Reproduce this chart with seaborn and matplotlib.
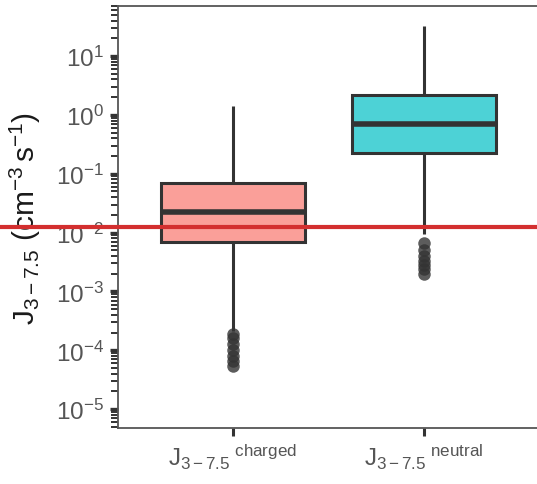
import numpy as np
import pandas as pd
import matplotlib
matplotlib.use("Agg")
import matplotlib.pyplot as plt
import matplotlib.transforms as mtransforms
from matplotlib.lines import Line2D
import seaborn as sns

# ---- data ----
categories = ["charged", "neutral"]
tick_labels = [r"$\mathrm{J}_{3-7.5}{}^{\ \mathrm{charged}}$",
               r"$\mathrm{J}_{3-7.5}{}^{\ \mathrm{neutral}}$"]

# quartiles (Q1, median, Q3)
charged_quartiles = [0.0068, 0.022, 0.070]
neutral_quartiles = [0.227, 0.70, 2.18]
# whisker ends (low, high)
charged_whiskers = [2.1e-4, 1.4]
neutral_whiskers = [0.0096, 32.0]
# outliers
charged_outliers = [1.9e-4, 1.6e-4, 1.3e-4, 1.0e-4, 8.0e-5, 6.5e-5, 5.5e-5]
neutral_outliers = [6.6e-3, 5.0e-3, 4.0e-3, 3.3e-3, 2.8e-3, 2.4e-3, 2.0e-3]

ref_line_value = 0.0126   # red horizontal reference line

# repeat count for quartile values so the computed quartiles fall on them
n_rep = 12

def build(cat, quart, whisk, outl):
    vals = list(outl) + [whisk[0]] + [quart[0]] * n_rep + [quart[1]] * n_rep \
        + [quart[2]] * n_rep + [whisk[1]]
    return pd.DataFrame({"group": cat, "J": vals})

df = pd.concat([
    build(categories[0], charged_quartiles, charged_whiskers, charged_outliers),
    build(categories[1], neutral_quartiles, neutral_whiskers, neutral_outliers),
], ignore_index=True)

sns.set_theme(style="white")
plt.rcParams["font.family"] = ["Liberation Sans", "DejaVu Sans"]
plt.rcParams["mathtext.fontset"] = "custom"
plt.rcParams["mathtext.rm"] = "Liberation Sans"
plt.rcParams["mathtext.it"] = "Liberation Sans:italic"
plt.rcParams["mathtext.bf"] = "Liberation Sans:bold"

fig = plt.figure(figsize=(5.37, 4.85), dpi=100)
ax = fig.add_axes([118 / 537, 1 - 429 / 485, (539 - 118) / 537, (429 - 7) / 485])

edge = "#333333"
sns.boxplot(
    data=df, x="group", y="J", hue="group", order=categories,
    palette=["#FA9F99", "#4DD2D6"], saturation=1, legend=False,
    log_scale=True, width=0.75, linewidth=2.2, linecolor=edge,
    showcaps=False,
    medianprops=dict(linewidth=4.0, color=edge),
    flierprops=dict(marker="o", markersize=9, markerfacecolor=edge,
                    markeredgecolor="none", alpha=0.8),
    ax=ax,
)

ax.set_xlim(-0.6, 1.6)
ax.set_ylim(10 ** -5.32, 10 ** 1.85)
ax.set_xticks([0, 1])
ax.set_xticklabels(tick_labels, fontsize=17.5, color="#555555")
ax.set_xlabel("")

major = [10.0 ** k for k in range(-5, 2)]
ax.set_yticks(major)
ax.set_yticklabels([r"$10^{%d}$" % k for k in range(-5, 2)], fontsize=17.5, color="#555555")
ax.yaxis.set_minor_locator(matplotlib.ticker.LogLocator(base=10, subs=np.arange(2, 10), numticks=100))
ax.yaxis.set_minor_formatter(matplotlib.ticker.NullFormatter())
ax.tick_params(axis="y", which="major", left=True, length=6, width=2.4, color=edge, pad=4)
ax.tick_params(axis="y", which="minor", left=True, length=5, width=1.4, color=edge)
ax.tick_params(axis="x", which="major", bottom=True, length=6, width=2.2, color=edge, pad=4)

ax.set_ylabel(r"$\mathrm{J}_{3-7.5}\ (\mathrm{cm}^{-3}\,\mathrm{s}^{-1})$", fontsize=21.5, color="#1A1A1A", labelpad=9)

for s in ax.spines.values():
    s.set_color("#555555")
    s.set_linewidth(1.3)

# red reference line spanning the full figure width
trans = mtransforms.blended_transform_factory(fig.transFigure, ax.transData)
fig.add_artist(Line2D([0, 1], [ref_line_value, ref_line_value], transform=trans,
                      color="#D32F2F", linewidth=3.0, zorder=10))

fig.savefig("out.png", dpi=100)
